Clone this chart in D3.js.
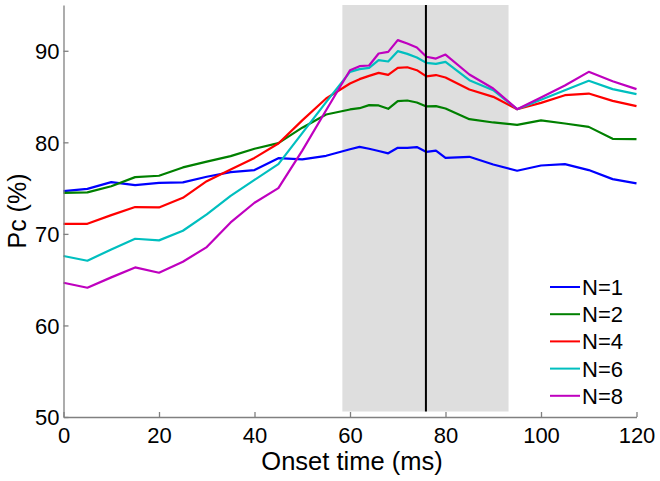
<!DOCTYPE html>
<html>
<head>
<meta charset="utf-8">
<script src="https://cdn.jsdelivr.net/npm/d3@7"></script>
<style>
  html, body { margin: 0; padding: 0; background: #fff; }
  svg { display: block; font-family: "Liberation Sans", Arial, sans-serif; }
</style>
</head>
<body>
<svg id="chart" width="660" height="481"></svg>
<script>
// ---- data ----
const onsetTimes = [0,5,10,15,20,25,30,35,40,45,50,55,60,62,64,66,68,70,72,74,76,78,80,85,90,95,100,105,110,115,120];
const seriesNames = ["N=1","N=2","N=4","N=6","N=8"];
const n1 = [74.67,74.92,75.66,75.33,75.58,75.62,76.24,76.75,76.97,78.27,78.13,78.53,79.25,79.5,79.3,79.05,78.8,79.4,79.4,79.48,78.95,79.1,78.31,78.42,77.58,76.9,77.47,77.62,76.97,75.98,75.51];
const n2 = [74.49,74.53,75.2,76.2,76.35,77.26,77.9,78.49,79.3,79.91,81.6,83.04,83.59,83.73,84.06,84.03,83.66,84.5,84.57,84.35,83.92,83.95,83.7,82.53,82.17,81.91,82.39,82.06,81.69,80.38,80.35];
const n4 = [71.1,71.1,72.05,72.93,72.89,73.94,75.76,77.04,78.3,79.87,82.4,84.79,86.42,86.9,87.26,87.59,87.37,88.14,88.2,87.88,87.2,87.35,87.08,85.77,84.97,83.62,84.31,85.15,85.33,84.53,83.95];
const n6 = [67.58,67.07,68.3,69.47,69.29,70.34,72.13,74.16,75.9,77.62,81.0,84.4,87.7,87.99,88.14,88.97,88.83,89.96,89.66,89.27,88.68,88.57,88.79,86.79,85.7,83.62,84.65,85.7,86.72,85.81,85.26];
const n8 = [64.66,64.12,65.25,66.34,65.76,66.96,68.56,71.25,73.4,75.0,79.1,83.5,87.88,88.32,88.39,89.7,89.88,91.16,90.79,90.36,89.35,89.15,89.59,87.41,85.88,83.62,84.9,86.2,87.7,86.68,85.81];
const seriesColors = ["#0000ff","#008000","#ff0000","#00bfbf","#bf00bf"];
const xTicks = [0,20,40,60,80,100,120];
const yTicks = [50,60,70,80,90];
const shadedSpan = [58.4, 93.2];
const markerTime = 75.9;
const xDomain = [0,120];
const yDomain = [50,95];

// ---- chart ----
const svg = d3.select("#chart");
const x = d3.scaleLinear().domain(xDomain).range([63.5, 636.5]);
const y = d3.scaleLinear().domain(yDomain).range([417, 5]);

const seriesData = [n1,n2,n4,n6,n8].map((vals,i) => ({
  name: seriesNames[i], color: seriesColors[i],
  pts: onsetTimes.map((t,j) => [t, vals[j]])
}));

// shaded window
svg.append("rect")
  .attr("x", x(shadedSpan[0]))
  .attr("y", y(yDomain[1]))
  .attr("width", x(shadedSpan[1]) - x(shadedSpan[0]))
  .attr("height", y(50.6) - y(yDomain[1]))
  .attr("fill", "#dedede");

// lines
const line = d3.line().x(d => x(d[0])).y(d => y(d[1]));
svg.append("g").selectAll("path").data(seriesData).join("path")
  .attr("d", d => line(d.pts))
  .attr("fill", "none")
  .attr("stroke", d => d.color)
  .attr("stroke-width", 2.2)
  .attr("stroke-linejoin", "round");

// marker line
svg.append("line")
  .attr("x1", x(markerTime)).attr("x2", x(markerTime))
  .attr("y1", y(yDomain[1])).attr("y2", y(50.6))
  .attr("stroke", "#000").attr("stroke-width", 2);

// axes
const axisColor = "#808080";
const gx = svg.append("g").attr("transform", `translate(0,${y(50)})`)
  .call(d3.axisBottom(x).tickValues(xTicks).tickFormat(d3.format("d"))
    .tickSizeInner(-5).tickSizeOuter(0).tickPadding(10));
const gy = svg.append("g").attr("transform", `translate(${x(0)},0)`)
  .call(d3.axisLeft(y).tickValues(yTicks).tickFormat(d3.format("d"))
    .tickSizeInner(-5).tickSizeOuter(0).tickPadding(4));
[gx, gy].forEach(g => {
  g.select(".domain").attr("stroke", axisColor).attr("stroke-width", 1.3);
  g.selectAll(".tick line").attr("stroke", axisColor).attr("stroke-width", 1.3);
  g.selectAll(".tick text").attr("fill", "#000").style("font-size", "22px")
    .style("font-family", "Liberation Sans, Arial, sans-serif");
});
gy.selectAll(".tick text").attr("dy", "0.36em");

// axis labels
svg.append("text")
  .attr("x", (x(0) + x(120)) / 2 + 2).attr("y", 470)
  .attr("text-anchor", "middle")
  .style("font-size", "25.5px").text("Onset time (ms)");
svg.append("text")
  .attr("transform", `translate(26,${(y(50)+y(95))/2}) rotate(-90)`)
  .attr("text-anchor", "middle")
  .style("font-size", "25px").text("Pc (%)");

// legend
const legend = svg.append("g");
seriesData.forEach((s, i) => {
  const cy = 287 + i * 27.2;
  legend.append("line").attr("x1", 550).attr("x2", 580)
    .attr("y1", cy).attr("y2", cy)
    .attr("stroke", s.color).attr("stroke-width", 2);
  legend.append("text").attr("x", 582).attr("y", cy).attr("dy", "0.36em")
    .style("font-size", "22px").text(s.name);
});
</script>
</body>
</html>
